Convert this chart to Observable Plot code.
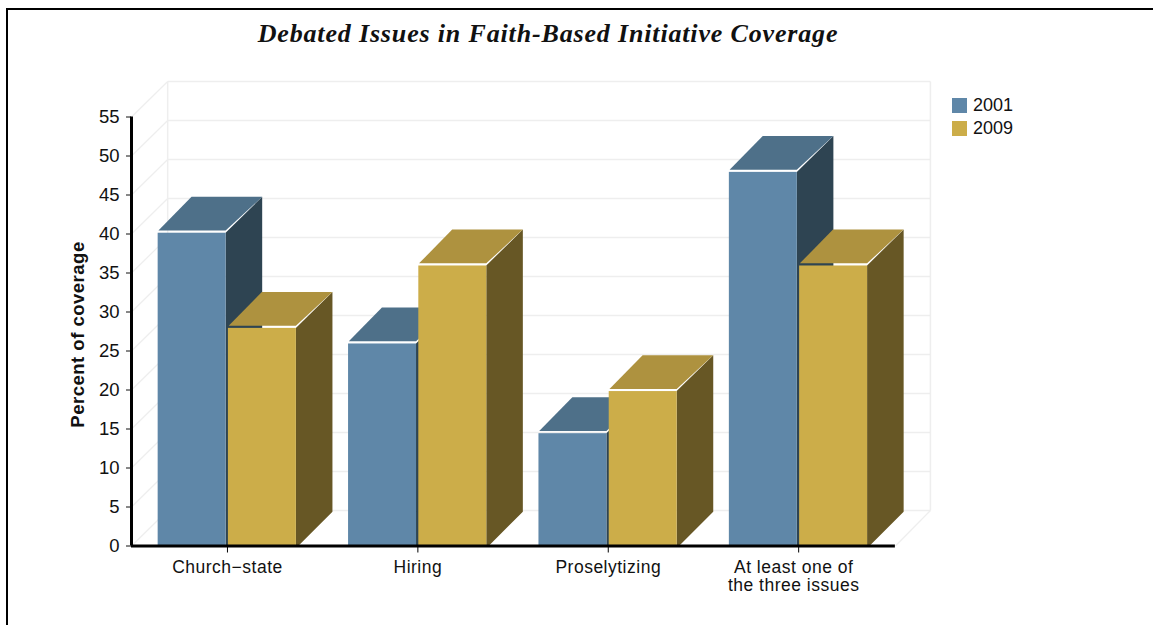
<!DOCTYPE html>
<html>
<head>
<meta charset="utf-8">
<script src="https://cdn.jsdelivr.net/npm/d3@7"></script>
<script src="https://cdn.jsdelivr.net/npm/@observablehq/plot@0.6"></script>
<style>
  html, body { margin: 0; padding: 0; background: #fff; }
  body { position: relative; width: 1153px; height: 625px; overflow: hidden; }
  #frame { position: absolute; left: 6px; top: 8px; right: 0; bottom: 0; border-top: 2px solid #000; border-left: 2px solid #000; }
  #title { position: absolute; left: 0; top: 19px; width: 1096px; text-align: center; margin: 0;
           font: italic bold 26px "Liberation Serif", serif; letter-spacing: 0.84px; color: #111; }
  .key { position: absolute; left: 973px; font: 18px "Liberation Sans", sans-serif; color: #111; line-height: 20px; }
  .swatch { position: absolute; left: 952px; width: 15px; height: 15px; }
  svg { position: absolute; left: 0; top: 0; }
  svg g[aria-label="text"] { letter-spacing: 0.5px; }
</style>
</head>
<body>
<div id="frame"></div>
<h1 id="title">Debated Issues in Faith-Based Initiative Coverage</h1>
<script>
// Share of coverage per issue, in percent
const categories = ["Church\u2212state", "Hiring", "Proselytizing", "At least one of\nthe three issues"];
const values2001 = [40.1, 25.9, 14.4, 47.9];
const values2009 = [27.9, 35.9, 19.8, 35.9];
const years = ["2001", "2009"];
const yTicks = d3.range(0, 60, 5);

// Face colours: front, top, side
const blue = ["#5f87a8", "#4e7089", "#2e4452"];
const gold = ["#ccad49", "#ae923f", "#675725"];

// Depth of the 3D box in data units, and slot layout inside each category
const wallDX = 0.19, wallDY = 4.55, axisEnd = 4.012;
const barDX = 0.192, barDY = 4.6, floorDY = 4.33, floorInset = 0.0147;
const topGap = 0.27;
const slots = [[0.14, 0.497], [0.509, 0.866]];

function barRows(values, slot) {
  return values.map((v, i) => ({id: i, v, x1: i + slot[0], x2: i + slot[1]}));
}

// The side face of a bar is a polygon running back from its right edge
function sideRows(bars) {
  return bars.flatMap((b) => {
    const t = floorInset / barDX;
    return [
      {id: b.id, x: b.x2, y1: 0, y2: b.v},
      {id: b.id, x: b.x2 + floorInset, y1: 0, y2: b.v + t * barDY},
      {id: b.id, x: b.x2 + barDX, y1: floorDY, y2: b.v + barDY}
    ];
  });
}

// The top face stops just short of the front, leaving a thin rim showing what is behind
function topRows(bars) {
  return bars.flatMap((b) => [
    {id: b.id, y: b.v + topGap, x1: b.x1 + 0.004, x2: b.x2},
    {id: b.id, y: b.v + barDY, x1: b.x1 + 0.178, x2: b.x2 + barDX}
  ]);
}

function barMarks(values, slot, colors) {
  const bars = barRows(values, slot);
  return [
    Plot.areaY(sideRows(bars), {x: "x", y1: "y1", y2: "y2", z: "id", fill: colors[2]}),
    Plot.areaX(topRows(bars), {y: "y", x1: "x1", x2: "x2", z: "id", fill: colors[1]}),
    Plot.rect(bars, {x1: "x1", x2: "x2", y1: 0, y2: "v", fill: colors[0]})
  ];
}

const gridColor = "#eeeeee";
const labelFont = {fontFamily: "Liberation Sans, sans-serif", fontSize: 17.5, fill: "#111"};
const labelRows = categories.map((text, i) => ({text, x: i + 0.504}));

const chart = Plot.plot({
  width: 1153,
  height: 625,
  marginLeft: 131,
  marginRight: 1153 - (131 + 761.6),
  marginTop: 116.5,
  marginBottom: 79.5,
  style: {background: "transparent", overflow: "visible"},
  x: {domain: [0, 4], axis: null},
  y: {domain: [0, 55], axis: null},
  marks: [
    // Back wall and floor of the box
    Plot.link(yTicks, {x1: wallDX, x2: axisEnd + 0.184, y1: (d) => d + wallDY, y2: (d) => d + wallDY, stroke: gridColor, strokeWidth: 1.5}),
    Plot.link(yTicks, {x1: 0, x2: wallDX, y1: (d) => d, y2: (d) => d + wallDY, stroke: gridColor, strokeWidth: 1.2}),
    Plot.link([wallDX, axisEnd + 0.184], {x1: (d) => d, x2: (d) => d, y1: wallDY, y2: 55 + wallDY, stroke: gridColor, strokeWidth: 1.5}),
    Plot.link([axisEnd], {x1: (d) => d, x2: axisEnd + 0.184, y1: 0, y2: wallDY, stroke: gridColor, strokeWidth: 1.2}),

    ...barMarks(values2001, slots[0], blue),
    ...barMarks(values2009, slots[1], gold),

    // Axes
    Plot.axisY({ticks: yTicks, tickSize: 5, tickPadding: 7, label: null, anchor: "left",
      fontFamily: "Liberation Sans, sans-serif", fontSize: 18.5, color: "#111"}),
    Plot.axisX({ticks: labelRows.map((d) => d.x), tickSize: 7, tickFormat: () => "", label: null, anchor: "bottom"}),
    Plot.ruleX([0], {y1: 0, y2: 55, stroke: "#000", strokeWidth: 3}),
    Plot.ruleY([0], {x1: 0, x2: axisEnd, stroke: "#000", strokeWidth: 3}),

    // Category labels; the two-line label sits a little left of its tick
    Plot.text(labelRows.slice(0, 3), {x: "x", y: 0, text: "text", dy: 21.5, ...labelFont}),
    Plot.text(labelRows.slice(3), {x: "x", y: 0, text: "text", dy: 30.5, dx: -5, lineHeight: 1.03, ...labelFont}),

    // Value axis title
    Plot.text(["Percent of coverage"], {frameAnchor: "left", textAnchor: "middle", rotate: -90, dx: -53, dy: 3, fontFamily: "Liberation Sans, sans-serif", fontSize: 18.5, fontWeight: "bold", fill: "#111"})
  ]
});
document.body.appendChild(chart);

// Year key to the right of the plot
years.forEach((year, i) => {
  const swatch = document.createElement("div");
  swatch.className = "swatch";
  swatch.style.top = `${98 + 23 * i}px`;
  swatch.style.background = [blue, gold][i][0];
  document.body.appendChild(swatch);
  const key = document.createElement("div");
  key.className = "key";
  key.style.top = `${95 + 23 * i}px`;
  key.textContent = year;
  document.body.appendChild(key);
});
</script>
</body>
</html>
